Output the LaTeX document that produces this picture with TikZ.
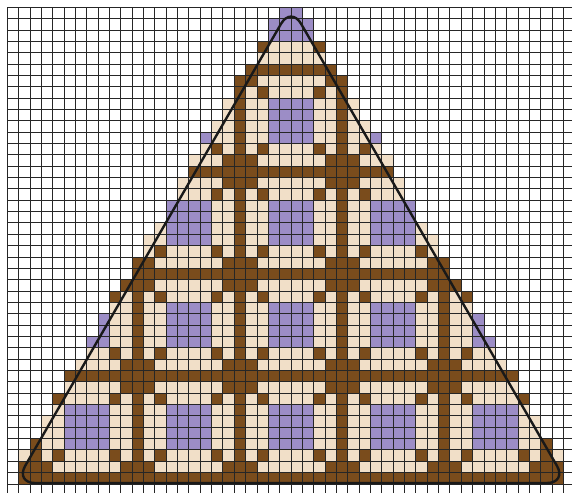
\documentclass[tikz,border=0pt]{standalone}
\usepackage{tikz}
\usepackage{xcolor}
\definecolor{cell0}{HTML}{F1DFC8}
\definecolor{cell1}{HTML}{7A4C1C}
\definecolor{cell2}{HTML}{9C8DC6}

\begin{document}
\begin{tikzpicture}[
    x=0.4cm, y=0.4cm,
    % Grid and outline styles
    gridline/.style={draw=black!85, line width=1pt, step=0.4cm},
    outline/.style={draw=black!90, line width=2.4pt,
      rounded corners=0.7cm, line join=round}
  ]

  % ============ Frame ============
  \useasboundingbox (-0.643,0.643) rectangle (49.75,-42.79);

  % ============ Cells (row by row, left edge given) ============
  \foreach \L [count=\r from 0] in {24,23,23,22,22,21,20,20,19,19,18,17,17,16,16,15,15,14,14,13,12,12,11,11,10,9,9,8,8,7,7,6,5,5,4,4,3,3,2,1,1,1} {
    \pgfmathtruncatemacro{\R}{49-\L}
    \pgfmathtruncatemacro{\n}{mod(\r+4,9)}
    \pgfmathtruncatemacro{\ady}{min(\n,9-\n)}
    \foreach \c in {\L,...,\R} {
      \pgfmathtruncatemacro{\m}{mod(\c+7,9)}
      \pgfmathtruncatemacro{\adx}{min(\m,9-\m)}
      \pgfmathtruncatemacro{\kind}{(\adx==0 || \ady==0 || (\adx<2 && \ady<2) || (\adx==2 && \ady==2)) ? 1 : ((\adx>2 && \ady>2) ? 2 : 0)}
      \fill[fill=cell\kind] (\c,-\r) rectangle ++(1,-1);
    }
  }

  % ============ Grid ============
  \draw[gridline] (0,-42.79) grid (49.75,0);

  % ============ Triangle outline ============
  \coordinate (apex) at (25,0.07);
  \coordinate (baseL) at (0.7,-41.91);
  \coordinate (baseR) at (49.3,-41.91);
  \coordinate (baseM) at (25,-41.91);
  \draw[outline] (baseM) -- (baseR) -- (apex) -- (baseL) -- cycle;

\end{tikzpicture}
\end{document}
